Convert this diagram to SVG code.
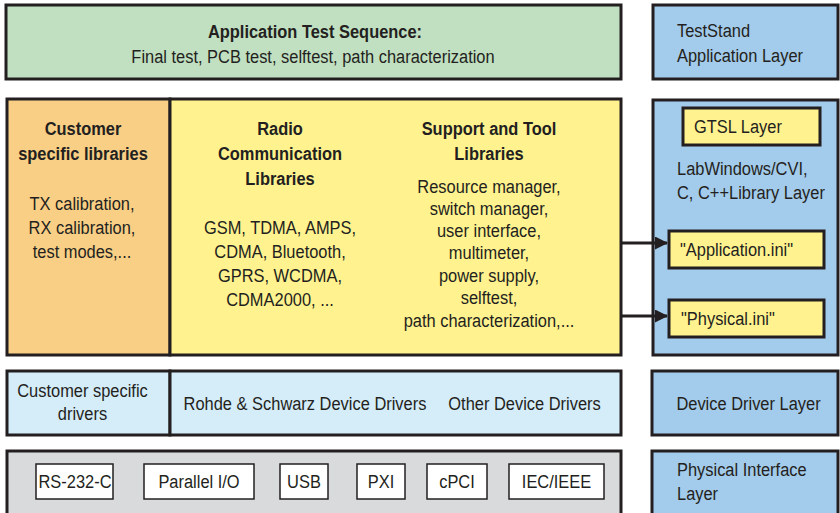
<svg xmlns="http://www.w3.org/2000/svg" width="840" height="513" viewBox="0 0 840 513">
<style>
.box{stroke:#231f20;stroke-width:3}
.thin{stroke:#231f20;stroke-width:1.5;fill:#fff}
text{font-family:"Liberation Sans",Arial,sans-serif;font-size:19px;fill:#231f20}
.b{font-weight:bold}
.c{text-anchor:middle}
.ln{stroke:#231f20;stroke-width:3;fill:none}
</style>
<defs>
<marker id="ah" markerWidth="13" markerHeight="13" refX="12" refY="6.5" orient="auto" markerUnits="userSpaceOnUse">
<path d="M0,0 L13,6.5 L0,13 Z" fill="#231f20"/>
</marker>
</defs>
<rect width="840" height="513" fill="#fff"/>

<g id="app-sequence">
<rect class="box" x="6" y="5" width="615" height="74" fill="#c1dfc1"/>
<text class="b c" transform="translate(315,38) scale(.865,1)">Application Test Sequence:</text>
<text class="c" transform="translate(313,63) scale(.865,1)">Final test, PCB test, selftest, path characterization</text>
</g>

<g id="teststand">
<rect class="box" x="653" y="5" width="185" height="74" fill="#a3cbeb"/>
<text transform="translate(677,37) scale(.865,1)"><tspan x="0" y="0">TestStand</tspan><tspan x="0" y="25">Application Layer</tspan></text>
</g>

<g id="customer-libs">
<rect class="box" x="7" y="99" width="163" height="256" fill="#f9cf86"/>
<text class="b c" transform="translate(83,135) scale(.865,1)"><tspan x="0" y="0">Customer</tspan><tspan x="0" y="25">specific libraries</tspan></text>
<text class="c" transform="translate(82,210) scale(.865,1)"><tspan x="0" y="0">TX calibration,</tspan><tspan x="0" y="24">RX calibration,</tspan><tspan x="0" y="48">test modes,...</tspan></text>
</g>

<g id="libraries">
<rect class="box" x="170" y="99" width="451" height="256" fill="#fff28f"/>
<text class="b c" transform="translate(280,135) scale(.865,1)"><tspan x="0" y="0">Radio</tspan><tspan x="0" y="25">Communication</tspan><tspan x="0" y="50">Libraries</tspan></text>
<text class="c" transform="translate(280,234) scale(.865,1)"><tspan x="0" y="0">GSM, TDMA, AMPS,</tspan><tspan x="0" y="24">CDMA, Bluetooth,</tspan><tspan x="0" y="48">GPRS, WCDMA,</tspan><tspan x="0" y="72">CDMA2000, ...</tspan></text>
<text class="b c" transform="translate(489,135) scale(.865,1)"><tspan x="0" y="0">Support and Tool</tspan><tspan x="0" y="25">Libraries</tspan></text>
<text class="c" transform="translate(489,193) scale(.865,1)"><tspan x="0" y="0">Resource manager,</tspan><tspan x="0" y="22">switch manager,</tspan><tspan x="0" y="44">user interface,</tspan><tspan x="0" y="66">multimeter,</tspan><tspan x="0" y="89">power supply,</tspan><tspan x="0" y="111">selftest,</tspan><tspan x="0" y="134">path characterization,...</tspan></text>
</g>

<g id="cvi-layer">
<rect class="box" x="653" y="100" width="185" height="255" fill="#a3cbeb"/>
<text transform="translate(677,175) scale(.865,1)"><tspan x="0" y="0">LabWindows/CVI,</tspan><tspan x="0" y="24">C, C++Library Layer</tspan></text>
</g>

<g id="gtsl">
<rect class="box" x="683" y="108" width="137" height="37" fill="#fff28f"/>
<text transform="translate(694,133) scale(.865,1)">GTSL Layer</text>
</g>

<g id="application-ini">
<rect class="box" x="669" y="231" width="155" height="37" fill="#fff28f"/>
<text transform="translate(680,256) scale(.865,1)">"Application.ini"</text>
</g>

<g id="physical-ini">
<rect class="box" x="669" y="300" width="155" height="37" fill="#fff28f"/>
<text transform="translate(681,325) scale(.865,1)">"Physical.ini"</text>
</g>

<g id="connectors">
<line class="ln" x1="621" y1="243" x2="667" y2="243" marker-end="url(#ah)"/>
<line class="ln" x1="621" y1="316" x2="667" y2="316" marker-end="url(#ah)"/>
</g>

<g id="customer-drivers">
<rect class="box" x="7" y="371" width="163" height="64" fill="#d5ecf9"/>
<text class="c" transform="translate(82.5,397) scale(.865,1)"><tspan x="0" y="0">Customer specific</tspan><tspan x="0" y="23">drivers</tspan></text>
</g>

<g id="device-drivers">
<rect class="box" x="170" y="371" width="451" height="64" fill="#d5ecf9"/>
<text class="c" transform="translate(305,410) scale(.865,1)">Rohde &amp; Schwarz Device Drivers</text>
<text class="c" transform="translate(524.5,410) scale(.865,1)">Other Device Drivers</text>
</g>

<g id="device-driver-layer">
<rect class="box" x="652" y="371" width="186" height="64" fill="#a3cbeb"/>
<text class="c" transform="translate(748.5,410) scale(.865,1)">Device Driver Layer</text>
</g>

<g id="physical-interfaces">
<rect class="box" x="7" y="451" width="614" height="70" fill="#d9dadc"/>
<rect class="thin" x="36" y="464" width="77" height="35"/>
<text class="c" transform="translate(75,488) scale(.865,1)">RS-232-C</text>
<rect class="thin" x="144" y="464" width="110" height="35"/>
<text class="c" transform="translate(199,488) scale(.865,1)">Parallel I/O</text>
<rect class="thin" x="280" y="464" width="48" height="35"/>
<text class="c" transform="translate(304,488) scale(.865,1)">USB</text>
<rect class="thin" x="357" y="464" width="48" height="35"/>
<text class="c" transform="translate(381,488) scale(.865,1)">PXI</text>
<rect class="thin" x="427" y="464" width="60" height="35"/>
<text class="c" transform="translate(457,488) scale(.865,1)">cPCI</text>
<rect class="thin" x="509" y="464" width="95" height="35"/>
<text class="c" transform="translate(556.5,488) scale(.865,1)">IEC/IEEE</text>
</g>

<g id="physical-interface-layer">
<rect class="box" x="652" y="451" width="186" height="70" fill="#a3cbeb"/>
<text transform="translate(677,476) scale(.865,1)"><tspan x="0" y="0">Physical Interface</tspan><tspan x="0" y="24">Layer</tspan></text>
</g>
</svg>
